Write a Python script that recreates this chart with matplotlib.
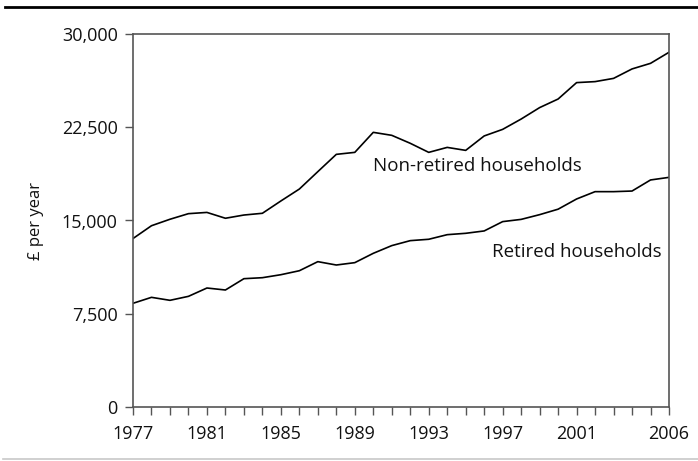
import matplotlib.pyplot as plt
from matplotlib.lines import Line2D

plt.rcParams['font.family'] = ['Open Sans', 'DejaVu Sans']

years = list(range(1977, 2007))
non_retired = [13550, 14580, 15100, 15550, 15650, 15180, 15440, 15580, 16570, 17530,
               18930, 20320, 20480, 22090, 21850, 21210, 20480, 20880, 20640, 21800,
               22330, 23160, 24080, 24770, 26090, 26170, 26430, 27190, 27640, 28530]
retired = [8340, 8820, 8580, 8900, 9570, 9410, 10320, 10400, 10640, 10960,
           11690, 11420, 11610, 12360, 12980, 13380, 13490, 13860, 13970, 14160,
           14910, 15090, 15470, 15910, 16730, 17320, 17320, 17370, 18260, 18470]
label_years = [1977, 1981, 1985, 1989, 1993, 1997, 2001, 2006]
y_ticks = [0, 7500, 15000, 22500, 30000]

fig = plt.figure(figsize=(6.98, 4.61), dpi=100)
ax = fig.add_axes([133 / 698, 1 - 407 / 461, 536 / 698, 373 / 461])

ax.plot(years, non_retired, color='black', lw=1.2)
ax.plot(years, retired, color='black', lw=1.2)

ax.set_xlim(1977, 2006)
ax.set_ylim(0, 30000)
ax.set_xticks(years)
ax.set_xticklabels([str(y) if y in label_years else '' for y in years])
ax.set_yticks(y_ticks)
ax.set_yticklabels([f'{v:,}' for v in y_ticks])

for s in ax.spines.values():
    s.set_color('#555555')
    s.set_linewidth(1.2)
ax.tick_params(axis='both', direction='out', length=6, width=1.0, color='#555555',
               labelsize=13, labelcolor='#111111')
ax.tick_params(axis='x', pad=7)
ax.tick_params(axis='y', pad=5)
ax.set_ylabel('£ per year', fontsize=12, color='#111111', labelpad=13)

ax.text(1990.0, 19400, 'Non-retired households', fontsize=13.5, color='#111111',
        ha='left', va='center')
ax.text(2005.6, 12450, 'Retired households', fontsize=13.5, color='#111111',
        ha='right', va='center')

fig.add_artist(Line2D([5 / 698, 1], [1 - 7 / 461, 1 - 7 / 461], color='black', lw=2))
fig.add_artist(Line2D([3 / 698, 1], [1 - 459 / 461, 1 - 459 / 461], color='#c8c8c8', lw=1.2))

fig.savefig('out.png', dpi=100)
